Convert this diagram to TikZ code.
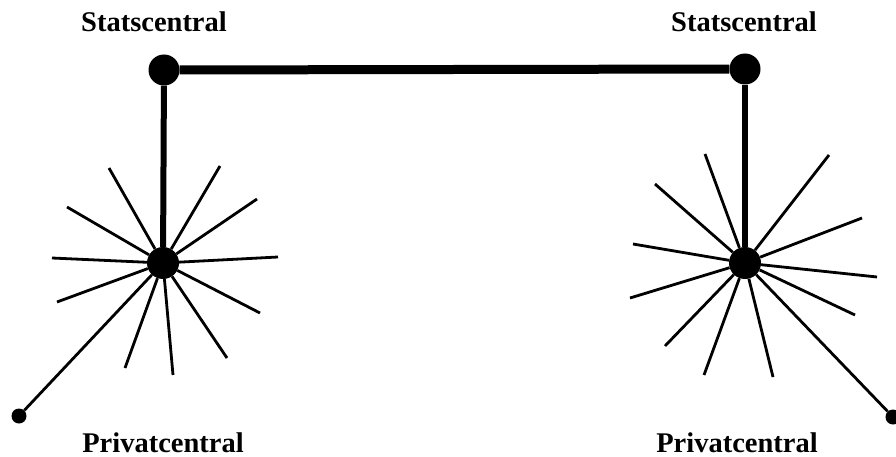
\documentclass[tikz,border=0pt]{standalone}
\usepackage{fontspec}
\setmainfont{Liberation Serif}
\begin{document}
\begin{tikzpicture}[x=1pt,y=-1pt,
  bigdot/.style={circle,fill=black,inner sep=0pt,minimum size=31pt},
  hubdot/.style={circle,fill=black,inner sep=0pt,minimum size=32pt},
  smalldot/.style={circle,fill=black,inner sep=0pt,minimum size=15pt},
  trunk/.style={line width=9pt},
  vline/.style={line width=6pt},
  spoke/.style={line width=2.8pt},
  lbl/.style={font=\fontsize{28.5}{32}\selectfont\bfseries,anchor=base,inner sep=0pt}]
\useasboundingbox (0,0) rectangle (896,457);
% nodes
\node[bigdot] (s1) at (164,70) {};
\node[bigdot] (s2) at (745,69) {};
\node[hubdot] (h1) at (163,263) {};
\node[hubdot] (h2) at (745,263) {};
\node[smalldot] (p1) at (19,416) {};
\node[smalldot] (p2) at (893,417) {};
% labels
\node[lbl] (t1) at (154,32) {Statscentral};
\node[lbl] (t2) at (744,32) {Statscentral};
\node[lbl] (b1) at (163,452) {Privatcentral};
\node[lbl] (b2) at (737,452) {Privatcentral};
% connectors
\draw[trunk] (s1) -- (s2);
\draw[vline] (s1) -- (h1);
\draw[vline] (s2) -- (h2);
\draw[spoke] (h1) -- (p1);
\draw[spoke] (h2) -- (p2);
% left star spokes
\foreach \i/\xx/\yy in {a/109/168,b/220/166,c/67/207,d/257/199,e/52/258,f/278/257,g/57/302,h/260/313,k/125/368,l/173/375,m/227/358}{
  \coordinate (L\i) at (\xx,\yy);
  \draw[spoke] (h1) -- (L\i);
}
% right star spokes
\foreach \i/\xx/\yy in {a/705/154,b/829/155,c/655/184,d/862/218,e/633/244,f/877/277,g/630/298,h/855/315,k/665/346,l/704/375,m/773/377}{
  \coordinate (R\i) at (\xx,\yy);
  \draw[spoke] (h2) -- (R\i);
}
\end{tikzpicture}
\end{document}
